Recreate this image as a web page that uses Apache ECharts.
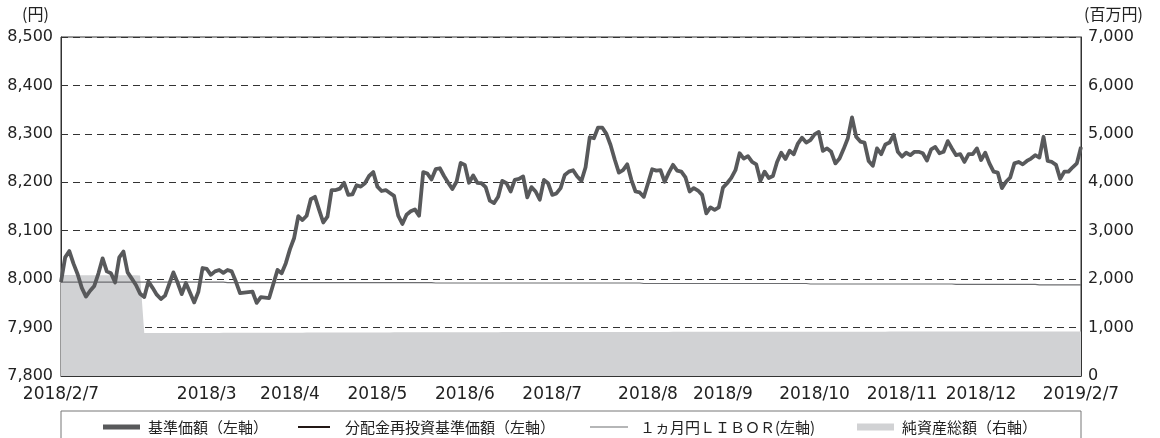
<!DOCTYPE html>
<html>
<head>
<meta charset="utf-8">
<script src="https://cdn.jsdelivr.net/npm/echarts@6/dist/echarts.min.js"></script>
<style>html,body{margin:0;padding:0;background:#fff}#c{width:1160px;height:438px}</style>
</head>
<body>
<div id="c"></div>
<script>
// x-axis tick labels and the observation index each one sits on
const tickLabels = ['2018/2/7','2018/3','2018/4','2018/5','2018/6','2018/7','2018/8','2018/9','2018/10','2018/11','2018/12','2019/2/7'];
const tickAt = [0,35,55,76,97,118,141,159,181,202,221,245];

// 基準価額 (left axis, yen)
const nav = [
7994,8045,8058,8032,8010,7982,7964,7976,7986,8012,
8043,8016,8012,7993,8045,8057,8014,8001,7988,7970,
7963,7995,7982,7968,7959,7966,7990,8014,7993,7969,
7992,7972,7952,7974,8023,8021,8009,8016,8019,8013,
8019,8016,7995,7971,7972,7973,7974,7951,7963,7962,
7961,7990,8019,8012,8033,8062,8085,8130,8122,8131,
8165,8170,8143,8117,8129,8184,8184,8187,8199,8174,
8175,8194,8191,8198,8213,8221,8191,8182,8184,8178,
8172,8131,8114,8133,8140,8144,8131,8221,8218,8206,
8227,8229,8213,8199,8186,8201,8240,8236,8199,8214,
8199,8198,8190,8162,8157,8170,8203,8198,8181,8205,
8207,8212,8169,8190,8181,8164,8205,8198,8174,8177,
8188,8215,8222,8225,8212,8203,8231,8293,8291,8313,
8313,8300,8277,8247,8220,8225,8237,8205,8181,8179,
8170,8198,8227,8224,8225,8201,8220,8236,8224,8222,
8210,8181,8188,8183,8174,8136,8148,8143,8148,8189,
8198,8209,8225,8260,8249,8254,8242,8237,8203,8222,
8209,8213,8242,8261,8248,8265,8258,8280,8292,8282,
8287,8299,8304,8265,8270,8263,8239,8249,8269,8291,
8334,8294,8284,8282,8244,8234,8270,8258,8278,8282,
8298,8263,8253,8261,8256,8263,8263,8260,8245,8268,
8273,8260,8263,8285,8270,8256,8258,8242,8258,8258,
8270,8246,8261,8239,8222,8220,8188,8201,8210,8239,
8242,8237,8244,8249,8256,8251,8294,8244,8242,8236,
8207,8222,8222,8231,8239,8273];

// 分配金再投資基準価額 (left axis) — no distributions, identical to the NAV
const reinvestNav = nav.slice();

// １ヵ月円ＬＩＢＯＲ (left axis)
const libor = [
7994,7994,7994,7994,7994,7994,7994,7994,7994,7994,
7994,7994,7994,7994,7994,7994,7994,7994,7994,7994,
7994,7994,7994,7994,7994,7994,7994,7994,7994,7994,
7994,7994,7994,7994,7994,7994,7994,7994,7994,7994,
7993,7993,7993,7993,7993,7993,7993,7993,7993,7993,
7993,7993,7993,7993,7993,7993,7993,7993,7993,7993,
7993,7993,7993,7993,7993,7993,7993,7993,7993,7993,
7993,7993,7993,7993,7993,7993,7993,7993,7993,7993,
7993,7993,7993,7993,7993,7993,7993,7993,7993,7993,
7992,7992,7992,7992,7992,7992,7992,7992,7992,7992,
7992,7992,7992,7992,7992,7992,7992,7992,7992,7992,
7992,7992,7992,7992,7992,7992,7992,7992,7992,7992,
7992,7992,7992,7992,7992,7992,7992,7992,7992,7992,
7992,7992,7992,7992,7992,7992,7992,7992,7992,7992,
7991,7991,7991,7991,7991,7991,7991,7991,7991,7991,
7991,7991,7991,7991,7991,7991,7991,7991,7991,7991,
7991,7991,7991,7991,7991,7991,7991,7991,7991,7991,
7991,7991,7991,7991,7991,7991,7991,7991,7991,7991,
7990,7990,7990,7990,7990,7990,7990,7990,7990,7990,
7990,7990,7990,7990,7990,7990,7990,7990,7990,7990,
7990,7990,7990,7990,7990,7990,7990,7990,7990,7990,
7990,7990,7990,7990,7990,7989,7989,7989,7989,7989,
7989,7989,7989,7989,7989,7989,7989,7989,7989,7989,
7989,7989,7989,7989,7989,7988,7988,7988,7988,7988,
7988,7988,7988,7988,7988,7988];

// 純資産総額 (right axis, million yen)
const netAssets = [
2085,2084,2084,2083,2083,2082,2082,2082,2081,2081,
2080,2080,2080,2079,2079,2079,2078,2078,2078,2077,
886,886,886,887,887,887,887,888,888,888,
888,889,889,889,889,890,890,890,890,891,
891,891,891,892,892,892,892,893,893,893,
893,894,894,894,894,895,895,895,895,896,
896,896,896,897,897,897,897,898,898,898,
898,899,899,899,899,900,900,900,900,900,
901,901,901,901,901,902,902,902,902,902,
903,903,903,903,903,904,904,904,904,904,
905,905,905,905,905,905,906,906,906,906,
906,906,907,907,907,907,907,907,908,908,
908,908,908,908,908,909,909,909,909,909,
909,909,910,910,910,910,910,910,910,911,
911,911,911,911,911,911,911,912,912,912,
912,912,912,912,912,912,913,913,913,913,
913,913,913,913,913,913,914,914,914,914,
914,914,914,914,914,914,914,915,915,915,
915,915,915,915,915,915,915,915,916,916,
916,916,916,916,916,916,916,916,916,917,
917,917,917,917,917,917,917,917,917,917,
918,918,918,918,918,918,918,918,918,918,
918,919,919,919,919,919,919,919,919,919,
919,919,919,920,920,920,920,920,920,920,
920,920,920,920,920,920];

const seriesNames = ['基準価額（左軸）','分配金再投資基準価額（左軸）','１ヵ月円ＬＩＢＯＲ(左軸)','純資産総額（右軸）'];

const categories = nav.map(function (_, i) {
  const k = tickAt.indexOf(i);
  return k >= 0 ? tickLabels[k] : '';
});

const numFont = 'DejaVu Sans';
const jpFont = '"Noto Sans CJK JP", "DejaVu Sans", sans-serif';
const fmt = function (v) { return v.toLocaleString('en-US'); };
const showTick = function (i, v) { return v !== ''; };

function legendAt(name, left, w, h, color, pad) {
  return {
    data: [{ name: name, icon: 'rect', itemStyle: { color: color, borderWidth: 0 } }],
    left: left, top: 419, padding: 0,
    itemWidth: w, itemHeight: h, selectedMode: false,
    textStyle: { fontFamily: jpFont, fontSize: 15, color: '#222', lineHeight: 16, padding: [0, 0, 0, pad] }
  };
}

const chart = echarts.init(document.getElementById('c'), null, { renderer: 'canvas' });
chart.setOption({
  animation: false,
  backgroundColor: '#fff',
  grid: { left: 61, right: 79, top: 37, bottom: 62, show: true, borderColor: '#333', borderWidth: 1, backgroundColor: 'transparent' },
  legend: [
    legendAt(seriesNames[0], 103, 37, 5, '#58595b', 3),
    legendAt(seriesNames[1], 298, 32, 2, '#231815', 10),
    legendAt(seriesNames[2], 590, 38, 1, '#6d6e71', 7),
    legendAt(seriesNames[3], 857, 37, 7, '#d1d2d4', 3)
  ],
  graphic: [
    { type: 'rect', shape: { x: 61, y: 411, width: 1020, height: 60 }, style: { fill: 'none', stroke: '#777', lineWidth: 1 }, silent: true, z: -1 },
    { type: 'text', left: 22, top: 6, style: { text: '(円)', font: '16px ' + jpFont, fill: '#222' } },
    { type: 'text', left: 1084, top: 6, style: { text: '(百万円)', font: '16px ' + jpFont, fill: '#222' } }
  ],
  xAxis: {
    type: 'category', data: categories, boundaryGap: false,
    axisLine: { lineStyle: { color: '#333', width: 1 } },
    axisTick: { inside: true, length: 7, interval: showTick, lineStyle: { color: '#333' } },
    axisLabel: { interval: showTick, margin: 10, fontFamily: numFont, fontSize: 17, color: '#222' },
    splitLine: { show: false }
  },
  yAxis: [
    {
      type: 'value', min: 7800, max: 8500, interval: 100,
      axisLine: { show: true, lineStyle: { color: '#333' } }, axisTick: { show: false },
      axisLabel: { formatter: fmt, margin: 8, fontFamily: numFont, fontSize: 16, color: '#222' },
      splitLine: { show: true, lineStyle: { color: '#333', type: [7, 5], width: 1 } }
    },
    {
      type: 'value', min: 0, max: 7000, interval: 1000,
      axisLine: { show: true, lineStyle: { color: '#333' } }, axisTick: { show: false },
      axisLabel: { formatter: fmt, margin: 7, fontFamily: numFont, fontSize: 16, color: '#222' },
      splitLine: { show: false }
    }
  ],
  series: [
    { name: seriesNames[3], type: 'line', yAxisIndex: 1, data: netAssets, symbol: 'none', z: 1,
      itemStyle: { color: '#d1d2d4' }, lineStyle: { width: 0 }, areaStyle: { color: '#d1d2d4', opacity: 1 } },
    { name: seriesNames[2], type: 'line', yAxisIndex: 0, data: libor, symbol: 'none', z: 2,
      itemStyle: { color: '#6d6e71' }, lineStyle: { color: '#6d6e71', width: 1.2 } },
    { name: seriesNames[1], type: 'line', yAxisIndex: 0, data: reinvestNav, symbol: 'none', z: 3,
      itemStyle: { color: '#231815' }, lineStyle: { color: '#231815', width: 1.5 } },
    { name: seriesNames[0], type: 'line', yAxisIndex: 0, data: nav, symbol: 'none', z: 4,
      itemStyle: { color: '#58595b' }, lineStyle: { color: '#58595b', width: 3.8, join: 'round' } }
  ]
});
</script>
</body>
</html>
